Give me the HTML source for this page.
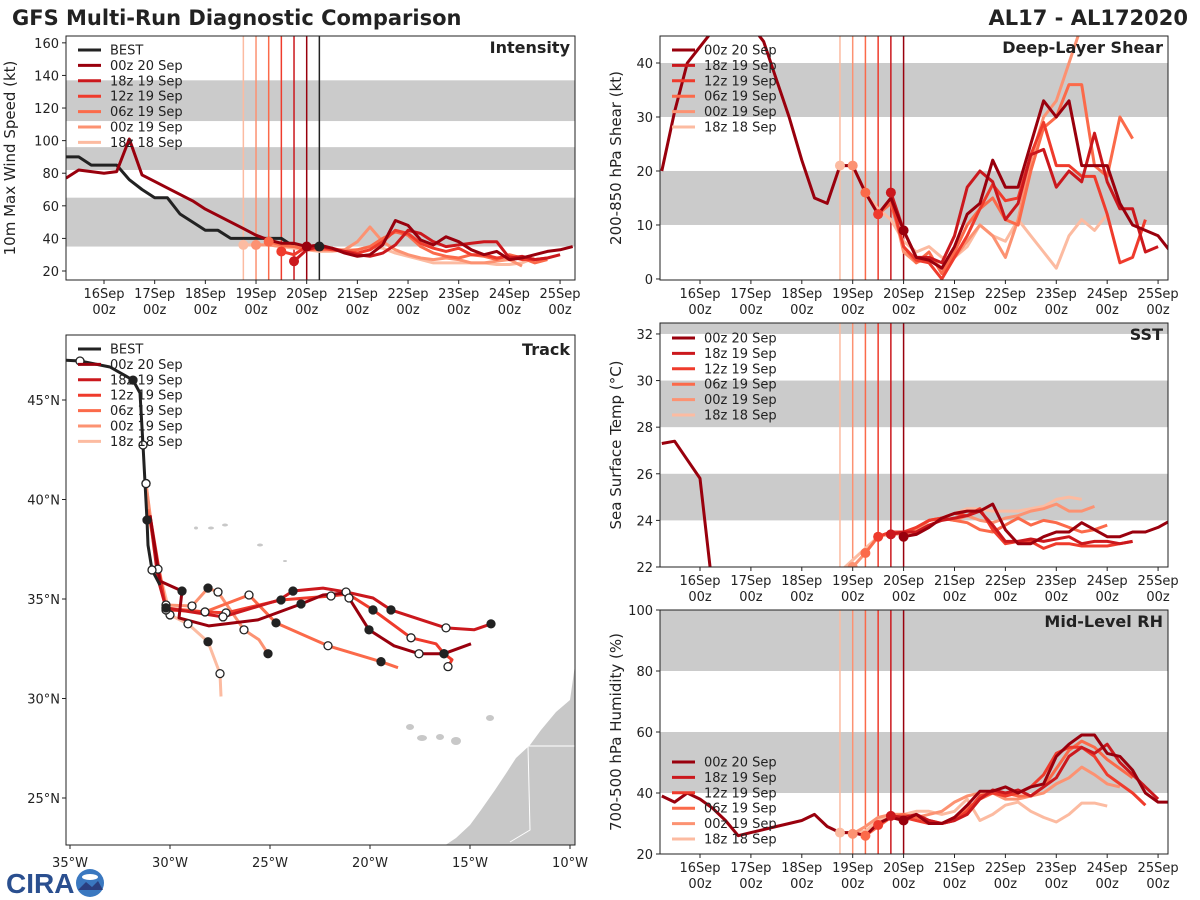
<!DOCTYPE html>
<html><head><meta charset="utf-8">
<style>
html,body{margin:0;padding:0;background:#fff;}
svg{display:block;font-family:"DejaVu Sans","Liberation Sans",sans-serif;}
</style></head>
<body>
<svg id="chart" width="1200" height="900" viewBox="0 0 1200 900">
  <text x="12" y="25" font-size="21" font-weight="bold" fill="#222">GFS Multi-Run Diagnostic Comparison</text>
  <text x="1188" y="25" font-size="21" font-weight="bold" fill="#222" text-anchor="end">AL17 - AL172020</text>
  <g id="logo">
    <text x="6" y="893" font-size="28" font-weight="bold" fill="#2a4f8f" font-family="Liberation Sans, sans-serif">CIRA</text>
    <circle cx="90" cy="883" r="14" fill="#3a78c0"/>
    <ellipse cx="90" cy="877" rx="8" ry="3" fill="#fff"/>
    <path d="M78 890 L86 882 L92 887 L98 881 L103 890 Z" fill="#2a3f7f"/>
  </g>
</svg>
<script>
// ---------- data ----------
const runNames = ["00z 20 Sep","18z 19 Sep","12z 19 Sep","06z 19 Sep","00z 19 Sep","18z 18 Sep"];
const runColors = ["#99000d","#cb181d","#ef3b2c","#fb6a4a","#fc9272","#fcbba1"];
const runInit = [4.0,3.75,3.5,3.25,3.0,2.75]; // days since 16 Sep 00z
const dayLabels = ["16Sep","17Sep","18Sep","19Sep","20Sep","21Sep","22Sep","23Sep","24Sep","25Sep"];

// intensity (kt)
const bestStart = -0.75;
const bestIntensity = [90,90,85,85,85,76,70,65,65,55,50,45,45,40,40,40,40,40,35,35,35];
const intStart = [-0.75,3.75,3.5,3.25,3.0,2.75];
const int00z20 = [77,82,81,80,81,101,79,75,71,67,63,58,54,50,46,42,39,37,37,35,36,34,31,29,30,36,51,48,39,36,41,38,33,30,32,27,28,30,32,33,35];
const int18z19 = [26,33,35,34,32,30,29,31,36,45,43,38,35,36,37,38,38,28,29,27,28,30];
const int12z19 = [32,30,35,35,33,32,31,33,38,45,43,37,34,32,34,30,30,28,29,27,27,28];
const int06z19 = [38,36,35,33,33,33,32,33,35,40,44,42,35,31,29,28,30,29,27,30,28,25,27];
const int00z19 = [36,36,35,35,34,33,33,33,38,47,38,33,30,28,27,28,27,25,25,26,27,23];
const int18z18 = [36,36,36,35,34,33,32,32,33,33,35,34,31,29,27,25,25,25,25,25,24,24,25,28];

// shear (kt)
const shrStart = [-0.75,3.75,3.5,3.25,3.0,2.75];
const shr00z20 = [20,31,40,43,46,48,49,47,44,37,30,22,15,14,21,21,16,12,15,9,4,3.5,2,6,12,14,22,17,17,25,33,30,33,21,21,21,14,10,9,8,5];
const shr18z19 = [16,9,4,4,3,8,17,20,18,11,14,23,24,17,20,18,27,18,13,13,5,6];
const shr12z19 = [12,15,6,3.5,3,0,4,8,13,17.5,14.5,15,23,29,21,21,19,19,12,3,4,11];
const shr06z19 = [16,12,14,6,3,5,1,5,10,13,15,11,10,20,28,30,36,36,21,19,30,26];
const shr00z19 = [21,16,12,15,5,3,4,2,4,7,10,8,4,11,22,30,33,40,47];
const shr18z18 = [21,21,16,13,11,7,5,6,4,4,6,10,8,7,11,8,5,2,8,11,9,12];

// SST (C)
const sstStart = [-0.75,3.75,3.5,3.25,3.0,2.75];
const sst00z20 = [27.3,27.4,26.6,25.8,21.0,null,null,null,null,null,null,null,null,null,null,null,null,null,null,23.3,23.4,23.7,24.1,24.3,24.4,24.4,24.7,23.6,23.0,23.0,23.3,23.5,23.5,23.9,23.6,23.3,23.3,23.5,23.5,23.7,24.0];
const sst18z19 = [23.4,23.5,23.5,23.8,24.0,24.1,24.2,24.4,23.8,23.1,23.1,23.2,23.1,23.2,23.3,23.0,23.1,23.1,23.0,23.1];
const sst12z19 = [23.3,23.5,23.5,23.7,24.0,24.1,24.3,24.2,24.5,23.6,23.0,23.1,23.1,22.8,23.0,23.0,22.9,22.9,22.9,23.0,23.1];
const sst06z19 = [22.6,23.3,23.5,23.4,23.7,24.0,24.1,24.0,23.9,23.6,23.5,23.8,24.1,23.8,24.0,23.9,23.7,23.5,23.6,23.8];
const sst00z19 = [22.0,22.6,23.3,23.5,23.4,23.6,24.0,24.1,24.0,24.2,24.0,23.9,24.1,24.2,24.4,24.5,24.7,24.4,24.4,24.6];
const sst18z18 = [21.8,22.3,22.8,23.3,23.4,23.4,23.5,24.0,24.1,24.3,24.5,24.5,24.4,24.4,24.4,24.5,24.6,24.9,25.0,24.9];

// mid-level RH (%)
const rhStart = [-0.75,3.75,3.5,3.25,3.0,2.75];
const rh00z20 = [39,37,40,38,35,31,26,27,28,29,30,31,33,29,27,27,26,30,32,31,33,30,30,32,36,40.6,40.6,42,40,42,43,52,56,59,59,53,52,47.5,40,37,37];
const rh18z19 = [32.5,32,33,31,30,31,33,38,41,40,41,39,42,45,52,55,53,56,50,46,42,38];
const rh12z19 = [29.5,32,32,31,30,30,31,34,39,40,39,40,42,46,53,55,55,52,46,43,40,36];
const rh06z19 = [26,29,32,33,32,31,30,32,35,38,40,40,39,39,42,48,54,57,55,51,48,45];
const rh00z19 = [26.6,29,32,33,33,32,33,34,37,39,40,40,38,38,39,40,43,45,48.5,46,43,42];
const rh18z18 = [27,27,27.5,31,33,33,34,34,33,34,38,31,33,36,37,34,32,30.5,33,36.7,36.7,35.7];

// tracks (lon, lat)
const bestLon = [-35.2,-34.5,-33.0,-31.85,-31.5,-31.35,-31.15,-31.1,-30.9,-30.5];
const bestLat = [47.0,46.96,46.66,46.0,45.35,42.74,38.97,37.71,36.46,35.7];
const bestMarks = ["","o","","f","","o","f","","o",""];
const trk00z20Lon = [-31.0,-30.5,-29.4,-29.55,-28.05,-25.6,-23.45,-22.35,-21.2,-21.05,-20.05,-18.8,-17.55,-16.3,-14.95];
const trk00z20Lat = [39.2,35.9,35.4,34.05,33.65,33.95,34.75,35.2,35.3,35.05,33.45,32.65,32.25,32.25,32.75];
const trk00z20Mk = ["","","f","","","","f","","","o","f","","o","f",""];
const trk18z19Lon = [-31.0,-30.6,-30.2,-27.35,-24.55,-23.85,-22.35,-21.2,-19.85,-18.95,-16.2,-14.8,-13.95];
const trk18z19Lat = [39.2,36.0,34.55,34.1,34.95,35.4,35.55,35.35,35.05,34.45,33.55,33.45,33.75];
const trk18z19Mk = ["","","f","o","","f","","o","","f","o","","f"];
const trk12z19Lon = [-31.0,-30.5,-30.2,-27.2,-24.45,-21.95,-21.1,-19.85,-17.95,-16.7,-16.3,-15.9,-16.1];
const trk12z19Lat = [39.2,36.2,34.45,34.3,34.95,35.15,35.25,34.45,33.05,32.75,32.25,31.95,31.6];
const trk12z19Mk = ["","","o","o","f","o","","f","o","","f","","o"];
const trk06z19Lon = [-31.1,-30.6,-30.2,-28.25,-26.05,-24.7,-22.1,-19.45,-18.6];
const trk06z19Lat = [39.5,36.5,34.55,34.35,35.2,33.8,32.65,31.85,31.55];
const trk06z19Mk = ["","o","f","o","o","f","o","f",""];
const trk00z19Lon = [-31.2,-30.7,-30.2,-28.9,-28.1,-27.6,-26.3,-25.55,-25.1];
const trk00z19Lat = [40.8,37.0,34.7,34.65,35.55,35.35,33.45,32.95,32.25];
const trk00z19Mk = ["o","","o","o","f","o","o","","f"];
const trk18z18Lon = [-31.2,-30.8,-30.0,-29.1,-28.1,-27.5,-27.45];
const trk18z18Lat = [40.8,37.5,34.2,33.75,32.85,31.25,30.1];
const trk18z18Mk = ["o","","o","o","f","o",""];

// ---------- drawing ----------
const svg = document.getElementById('chart');
const NS = 'http://www.w3.org/2000/svg';
function mk(tag, attrs, parent){
  const e = document.createElementNS(NS, tag);
  for (const k in attrs) e.setAttribute(k, attrs[k]);
  (parent||svg).appendChild(e);
  return e;
}
let clipId = 0;

function timePanel(cfg){
  const g = mk('g', {});
  
  
  const X = t => cfg.x0 + (t - cfg.tmin) / (cfg.tmax - cfg.tmin) * (cfg.x1 - cfg.x0);
  const Y = v => cfg.y1 - (v - cfg.vmin) / (cfg.vmax - cfg.vmin) * (cfg.y1 - cfg.y0);
  const cid = 'clip' + (clipId++);
  const cp = mk('clipPath', {id: cid}, g);
  mk('rect', {x: cfg.x0, y: cfg.y0, width: cfg.x1 - cfg.x0, height: cfg.y1 - cfg.y0}, cp);
  const inner = mk('g', {'clip-path': 'url(#' + cid + ')'}, g);
  cfg.bands.forEach(b => {
    const r = mk('rect', {x: cfg.x0, y: Y(b[1]), width: cfg.x1 - cfg.x0, height: Y(b[0]) - Y(b[1]), fill: '#cbcbcb'}, inner);
    
    
  });
  for (let i = runInit.length - 1; i >= 0; i--) {
    const l = mk('line', {x1: X(runInit[i]), x2: X(runInit[i]), y1: cfg.y0, y2: cfg.y1, stroke: runColors[i], 'stroke-width': 1.5}, inner);
    
    
  }
  if (cfg.bestLine) {
    const l = mk('line', {x1: X(4.25), x2: X(4.25), y1: cfg.y0, y2: cfg.y1, stroke: '#222', 'stroke-width': 1.5}, inner);
    
    
  }
  function series(vals, t0, color, w, nm){
    let d = '', pen = false;
    vals.forEach((v, k) => {
      if (v === null) { pen = false; return; }
      d += (pen ? 'L' : 'M') + X(t0 + k * 0.25).toFixed(1) + ' ' + Y(v).toFixed(1);
      pen = true;
    });
    const p = mk('path', {d: d, fill: 'none', stroke: color, 'stroke-width': w, 'stroke-linejoin': 'round'}, inner);
    
    
  }
  if (cfg.best) series(cfg.best, bestStart, '#222', 3, 'best-series');
  for (let i = cfg.series.length - 1; i >= 0; i--) series(cfg.series[i], cfg.starts[i], runColors[i], 3, 'series-' + runNames[i].replace(/ /g, '').toLowerCase());
  for (let i = runInit.length - 1; i >= 0; i--) {
    const s = cfg.series[i], k = Math.round((runInit[i] - cfg.starts[i]) / 0.25);
    if (s[k] !== null && s[k] !== undefined) {
      const c = mk('circle', {cx: X(runInit[i]), cy: Y(s[k]), r: 5, fill: runColors[i]}, inner);
      
      
    }
  }
  if (cfg.best) {
    const k = cfg.best.length - 1;
    const c = mk('circle', {cx: X(bestStart + k * 0.25), cy: Y(cfg.best[k]), r: 5, fill: '#222'}, inner);
    
    
  }
  mk('rect', {x: cfg.x0, y: cfg.y0, width: cfg.x1 - cfg.x0, height: cfg.y1 - cfg.y0, fill: 'none', stroke: '#222', 'stroke-width': 1}, g);
  dayLabels.forEach((lab, k) => {
    const x = X(k);
    mk('line', {x1: x, x2: x, y1: cfg.y1, y2: cfg.y1 + 4, stroke: '#222'}, g);
    const t1 = mk('text', {x: x, y: cfg.y1 + 18, 'font-size': 13, 'text-anchor': 'middle', fill: '#222'}, g);
    t1.textContent = lab;
    
    
    const t2 = mk('text', {x: x, y: cfg.y1 + 34, 'font-size': 13, 'text-anchor': 'middle', fill: '#222'}, g);
    t2.textContent = '00z';
    
    
  });
  cfg.yticks.forEach(v => {
    const y = Y(v);
    mk('line', {x1: cfg.x0 - 4, x2: cfg.x0, y1: y, y2: y, stroke: '#222'}, g);
    const t = mk('text', {x: cfg.x0 - 7, y: y + 5, 'font-size': 13, 'text-anchor': 'end', fill: '#222'}, g);
    t.textContent = v;
    
    
  });
  const yt = mk('text', {x: 0, y: 0, 'font-size': 15, 'text-anchor': 'middle', fill: '#222', transform: 'translate(' + cfg.ytx + ',' + ((cfg.y0 + cfg.y1) / 2) + ') rotate(-90)'}, g);
  yt.textContent = cfg.ytitle;
  
  
  const pt = mk('text', {x: cfg.x1 - 5, y: cfg.y0 + 17, 'font-size': 16, 'font-weight': 'bold', 'text-anchor': 'end', fill: '#222'}, g);
  pt.textContent = cfg.title;
  
  
  legend(g, cfg.x0 + 7, cfg.legY, cfg.best ? true : false);
}

function legend(g, x, y, withBest){
  const names = withBest ? ['BEST'].concat(runNames) : runNames;
  const cols = withBest ? ['#222'].concat(runColors) : runColors;
  names.forEach((n, i) => {
    const yy = y + i * 15.4;
    const l = mk('line', {x1: x + 5, x2: x + 28, y1: yy, y2: yy, stroke: cols[i], 'stroke-width': 3}, g);
    
    
    const t = mk('text', {x: x + 37, y: yy + 4.5, 'font-size': 13, fill: '#222'}, g);
    t.textContent = n;
    
    
  });
}

timePanel({name: 'intensity-panel', title: 'Intensity', x0: 66, x1: 575, y0: 36, y1: 280, tmin: -0.75, tmax: 9.295, vmin: 14.48, vmax: 164.2,
  bands: [[35,65],[82,96],[112,137]], yticks: [20,40,60,80,100,120,140,160], ytitle: '10m Max Wind Speed (kt)', ytx: 15,
  best: bestIntensity, bestLine: true, series: [int00z20,int18z19,int12z19,int06z19,int00z19,int18z18], starts: intStart, legY: 50});
timePanel({name: 'shear-panel', title: 'Deep-Layer Shear', x0: 660, x1: 1168, y0: 36, y1: 280, tmin: -0.786, tmax: 9.195, vmin: -0.19, vmax: 45,
  bands: [[10,20],[30,40]], yticks: [0,10,20,30,40], ytitle: '200-850 hPa Shear (kt)', ytx: 621,
  series: [shr00z20,shr18z19,shr12z19,shr06z19,shr00z19,shr18z18], starts: shrStart, legY: 50});
timePanel({name: 'sst-panel', title: 'SST', x0: 660, x1: 1168, y0: 323, y1: 567, tmin: -0.786, tmax: 9.195, vmin: 22, vmax: 32.47,
  bands: [[24,26],[28,30],[32,34]], yticks: [22,24,26,28,30,32], ytitle: 'Sea Surface Temp (°C)', ytx: 621,
  series: [sst00z20,sst18z19,sst12z19,sst06z19,sst00z19,sst18z18], starts: sstStart, legY: 338});
timePanel({name: 'rh-panel', title: 'Mid-Level RH', x0: 660, x1: 1168, y0: 610, y1: 854, tmin: -0.786, tmax: 9.195, vmin: 20, vmax: 100,
  bands: [[40,60],[80,100]], yticks: [20,40,60,80,100], ytitle: '700-500 hPa Humidity (%)', ytx: 621,
  series: [rh00z20,rh18z19,rh12z19,rh06z19,rh00z19,rh18z18], starts: rhStart, legY: 762});

// ---------- track panel ----------
(function(){
  const x0 = 66, x1 = 575, y0 = 335, y1 = 845;
  const X = lon => 70 + (lon + 35) * 20;
  const Y = lat => 400 - (lat - 45) * 19.9;
  const g = mk('g', {});
  
  
  const cp = mk('clipPath', {id: 'trkclip'}, g);
  mk('rect', {x: x0, y: y0, width: x1 - x0, height: y1 - y0}, cp);
  const inner = mk('g', {'clip-path': 'url(#trkclip)'}, g);
  const land = mk('path', {d: 'M575 665 L570 700 L556 712 L541 730 L530 745 L516 758 L505 775 L495 790 L481 810 L470 825 L456 838 L444 846 L576 846 Z', fill: '#c8c8c8'}, inner);
  
  
  mk('path', {d: 'M528 746 L576 746 M528 746 L530 830 L510 842', stroke: '#fff', 'stroke-width': 1, fill: 'none'}, inner);
  [[410,727,4,3],[422,738,5,3],[440,737,4,3],[456,741,5,4],[490,718,4,3],[196,528,2,1.5],[211,528,3,1.5],[225,525,3,1.5],[260,545,3,1.5],[285,561,2,1]].forEach(c => {
    const e = mk('ellipse', {cx: c[0], cy: c[1], rx: c[2], ry: c[3], fill: '#c8c8c8'}, inner);
    
    
  });
  function track(lons, lats, marks, color, nm){
    const d = lons.map((lo, k) => (k ? 'L' : 'M') + X(lo).toFixed(1) + ' ' + Y(lats[k]).toFixed(1)).join('');
    const p = mk('path', {d: d, fill: 'none', stroke: color, 'stroke-width': 3, 'stroke-linejoin': 'round'}, inner);
    
    
    return () => marks.forEach((m, k) => {
      if (!m) return;
      const c = mk('circle', {cx: X(lons[k]), cy: Y(lats[k]), r: 4, fill: m === 'f' ? '#222' : '#fff', stroke: '#222', 'stroke-width': 1.3}, inner);
      
      
    });
  }
  const dots = [];
  dots.push(track(trk18z18Lon, trk18z18Lat, trk18z18Mk, runColors[5], 'track-18z18sep'));
  dots.push(track(trk00z19Lon, trk00z19Lat, trk00z19Mk, runColors[4], 'track-00z19sep'));
  dots.push(track(trk06z19Lon, trk06z19Lat, trk06z19Mk, runColors[3], 'track-06z19sep'));
  dots.push(track(trk12z19Lon, trk12z19Lat, trk12z19Mk, runColors[2], 'track-12z19sep'));
  dots.push(track(trk18z19Lon, trk18z19Lat, trk18z19Mk, runColors[1], 'track-18z19sep'));
  dots.push(track(trk00z20Lon, trk00z20Lat, trk00z20Mk, runColors[0], 'track-00z20sep'));
  dots.push(track(bestLon, bestLat, bestMarks, '#222', 'track-best'));
  dots.forEach(f => f());
  mk('rect', {x: x0, y: y0, width: x1 - x0, height: y1 - y0, fill: 'none', stroke: '#222', 'stroke-width': 1}, g);
  [-35,-30,-25,-20,-15,-10].forEach(lo => {
    const x = X(lo);
    mk('line', {x1: x, x2: x, y1: y1, y2: y1 + 4, stroke: '#222'}, g);
    const t = mk('text', {x: x, y: y1 + 22, 'font-size': 13, 'text-anchor': 'middle', fill: '#222'}, g);
    t.textContent = (-lo) + '°W';
    
    
  });
  [25,30,35,40,45].forEach(la => {
    const y = Y(la);
    mk('line', {x1: x0 - 4, x2: x0, y1: y, y2: y, stroke: '#222'}, g);
    const t = mk('text', {x: x0 - 6, y: y + 5, 'font-size': 13, 'text-anchor': 'end', fill: '#222'}, g);
    t.textContent = la + '°N';
    
    
  });
  const pt = mk('text', {x: x1 - 5, y: y0 + 20, 'font-size': 16, 'font-weight': 'bold', 'text-anchor': 'end', fill: '#222'}, g);
  pt.textContent = 'Track';
  
  
  legend(g, 73, 349, true);
})();
svg.appendChild(document.getElementById('logo'));
</script>
</body></html>
